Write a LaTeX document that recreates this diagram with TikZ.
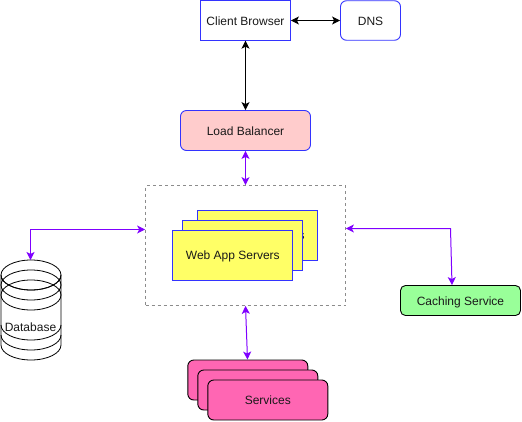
\documentclass[tikz,border=0pt]{standalone}
\usepackage{fontspec}
\setmainfont{Liberation Sans}
\usetikzlibrary{arrows.meta}
\definecolor{edgeblue}{HTML}{3333FF}
\definecolor{arrowpurple}{HTML}{7F00FF}
\definecolor{lbpink}{HTML}{FFCCCC}
\definecolor{webyellow}{HTML}{FFFF66}
\definecolor{svcpink}{HTML}{FF66B3}
\definecolor{cachegreen}{HTML}{99FF99}
\tikzset{
	boxtext/.style={font=\fontsize{12}{14}\selectfont, text=black!90, text height=10.5pt, text depth=1.5pt},
	box/.style={draw, line width=0.9pt, inner sep=0pt, boxtext},
	bluebox/.style={box, draw=edgeblue},
	webbox/.style={bluebox, fill=webyellow, minimum width=120pt, minimum height=50pt},
	svcbox/.style={box, fill=svcpink, rounded corners=6pt, minimum width=120pt, minimum height=40pt},
	blackarrow/.style={{Stealth[length=8pt,width=8pt,inset=2pt]}-{Stealth[length=8pt,width=8pt,inset=2pt]}, line width=1pt},
	purplearrow/.style={blackarrow, color=arrowpurple}
}
\begin{document}
\begin{tikzpicture}[x=1pt, y=-1pt]
		\useasboundingbox (0, 0) rectangle (522, 421);
		
		%%%%% BOXES %%%%%
		
		\node[bluebox, minimum width=90pt, minimum height=39.5pt] (browser) at (245.5, 20.5) {Client Browser};
		\node[bluebox, rounded corners=6pt, minimum width=60pt, minimum height=39.5pt] (dns) at (370.5, 20.5) {DNS};
		\node[bluebox, fill=lbpink, rounded corners=6pt, minimum width=130pt, minimum height=40pt] (balancer) at (245.5, 130.5) {Load Balancer};
		
		\node[draw=black!45, dash pattern=on 3pt off 3pt, line width=0.7pt, inner sep=0pt, minimum width=200pt, minimum height=120pt] (webgroup) at (245.5, 245.5) {};
		\node[webbox] (webback) at (257.8, 235) {Web App Servers};
		\node[webbox] (webmiddle) at (242.8, 245) {};
		\node[webbox] (webfront) at (232.8, 255) {Web App Servers};
		
		\node[box, fill=cachegreen, rounded corners=5pt, minimum width=120pt, minimum height=30pt] (cache) at (460.5, 300.5) {Caching Service};
		
		\node[svcbox] (svcback) at (247.8, 380) {};
		\node[svcbox] (svcmiddle) at (257.8, 390) {};
		\node[svcbox] (svcfront) at (267.8, 400) {Services};
		
		\draw[line width=0.8pt, fill=white] (1, 275) -- (1, 345) arc (180:0:30 and 15) -- (61, 275) arc (0:180:30 and 15) -- cycle;
		\foreach \y in {275, 285, 295}
			\draw[line width=0.8pt] (31, \y) ellipse (30 and 15);
		\draw[line width=0.8pt] (1, 325) arc (180:0:30 and 15);
		\draw[line width=0.8pt] (1, 335) arc (180:0:30 and 15);
		\node[boxtext, inner sep=0pt] (database) at (30.5, 327) {Database};
		\coordinate (dbtop) at (30.5, 260);
		\coordinate (cachebend) at (450.5, 228.5);
		
		%%%%% ARROWS %%%%%
		
		\draw[blackarrow] (browser) -- (dns);
		\draw[blackarrow] (browser) -- (balancer);
		\draw[purplearrow] (balancer) -- (webgroup);
		\draw[purplearrow] (dbtop) |- (webgroup.west |- 0, 229.5);
		\draw[purplearrow] (webgroup.east |- cachebend) -- (cachebend) -- (cache.north -| 452, 0);
		\draw[purplearrow] (webgroup.south -| 245.5, 0) -- (svcback.north -| 247.5, 0);
		
		%%%%% END %%%%%
	\end{tikzpicture}
\end{document}
